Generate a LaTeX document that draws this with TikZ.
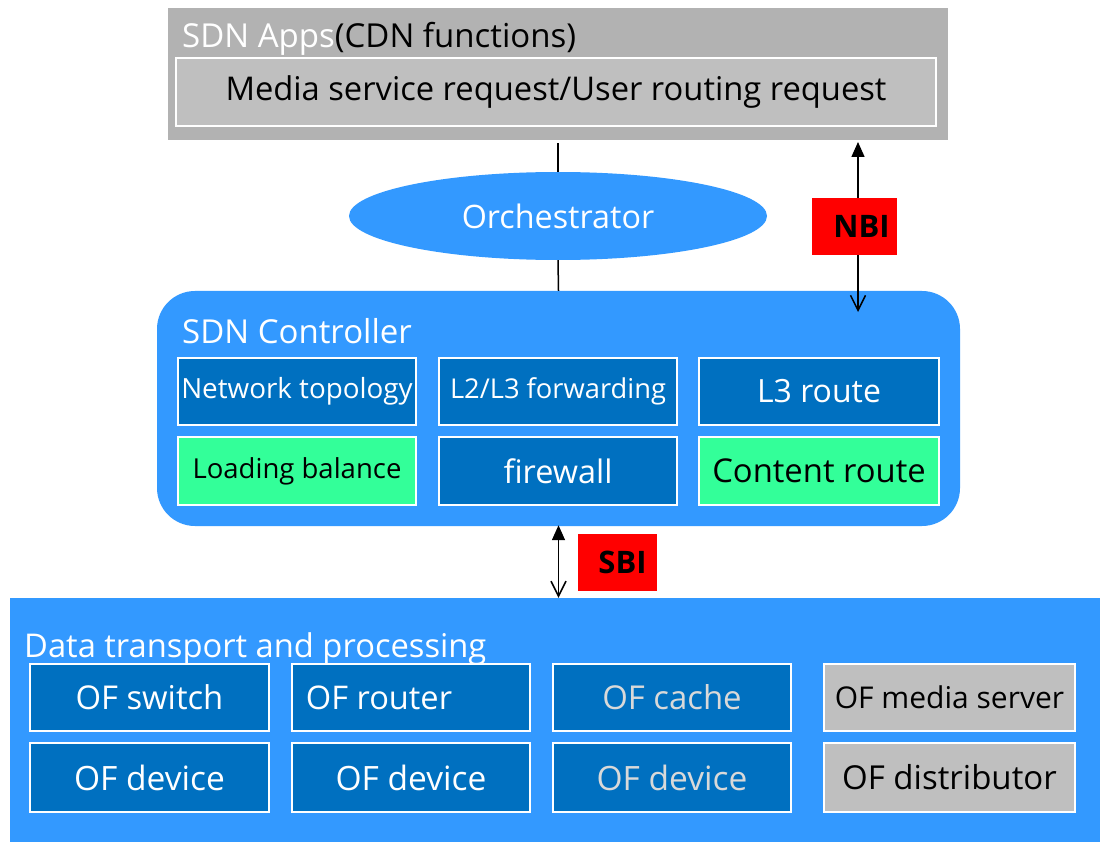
\documentclass[tikz,border=0pt]{standalone}
\usepackage{fontspec}
\setmainfont{Open Sans}
\usetikzlibrary{shapes.geometric,arrows.meta}
\definecolor{appsgray}{HTML}{B2B2B2}
\definecolor{reqgray}{HTML}{BFBFBF}
\definecolor{skyblue}{HTML}{3399FF}
\definecolor{deepblue}{HTML}{0070C0}
\definecolor{mint}{HTML}{33FF99}
\definecolor{dimtext}{HTML}{D9D9D9}
\tikzset{
  fs/.style={font=\fontsize{#1}{#1}\selectfont},
  cell/.style={draw=white, line width=2pt, inner sep=0pt, align=center},
  bluecell/.style={cell, fill=deepblue, text=white},
  greencell/.style={cell, fill=mint, text=black},
  graycell/.style={cell, fill=reqgray, text=black},
  tag/.style={fill=red, inner sep=0pt, font=\fontsize{31}{31}\selectfont\bfseries},
  title/.style={anchor=base west, text=white, inner sep=0pt},
  link/.style={draw=black, line width=1.5pt},
  twoway/.style={link, {Triangle[width=13pt,length=15pt]}-{Straight Barb[width=15pt,length=15pt]}},
}
\begin{document}
\begin{tikzpicture}[x=1pt,y=-1pt]
\useasboundingbox[fill=white] (0,0) rectangle (1100,842);

% application layer
\node[fill=appsgray, minimum width=780pt, minimum height=132pt, inner sep=0pt] (apps) at (558,74) {};
\node[title, fs=33] (appstitle) at (182,48) {SDN Apps\textcolor{black}{(CDN functions)}};
\node[graycell, minimum width=760pt, minimum height=68pt, fs=32.7] (req) at (556,92) {Media service request/User routing request};

% orchestrator
\node[ellipse, fill=skyblue, minimum width=418pt, minimum height=88pt, inner sep=0pt, text=white, fs=32.3] (orch) at (558,216) {Orchestrator};

% controller
\node[fill=skyblue, rounded corners=38pt, minimum width=803pt, minimum height=235pt, inner sep=0pt] (ctrl) at (558.5,408.5) {};
\node[title, fs=33] (ctrltitle) at (182,343) {SDN Controller};
\node[bluecell, minimum width=238pt, minimum height=67pt, fs=27.8] (topo) at (297,391.5) {Network topology};
\node[bluecell, minimum width=238pt, minimum height=67pt, fs=27.3] (fwd) at (558,391.5) {L2/L3 forwarding};
\node[bluecell, minimum width=240pt, minimum height=67pt, fs=32] (l3) at (819,391.5) {L3 route};
\node[greencell, minimum width=238pt, minimum height=68pt, fs=27.5] (lb) at (297,471) {Loading balance};
\node[bluecell, minimum width=238pt, minimum height=68pt, fs=32.4] (fw) at (558,471) {firewall};
\node[greencell, minimum width=240pt, minimum height=68pt, fs=32.8] (cr) at (819,471) {Content route};

% data plane
\node[fill=skyblue, minimum width=1090pt, minimum height=244pt, inner sep=0pt] (data) at (555,720) {};
\node[title, fs=32.7] (datatitle) at (24,657) {Data transport and processing};
\node[bluecell, minimum width=239pt, minimum height=67pt, fs=32.8] (sw) at (149.5,697.5) {OF switch};
\node[bluecell, minimum width=238pt, minimum height=67pt, fs=32.6] (rt) at (411,697.5) {\hspace*{-64pt}OF router};
\node[bluecell, minimum width=238pt, minimum height=67pt, fs=32.9, text=dimtext] (cache) at (672,697.5) {OF cache};
\node[graycell, minimum width=251pt, minimum height=67pt, fs=30] (media) at (949.5,697.5) {OF media server};
\node[bluecell, minimum width=239pt, minimum height=69pt, fs=33.5] (dev1) at (149.5,777.5) {OF device};
\node[bluecell, minimum width=238pt, minimum height=69pt, fs=33.5] (dev2) at (411,777.5) {OF device};
\node[bluecell, minimum width=238pt, minimum height=69pt, fs=33.5, text=dimtext] (dev3) at (672,777.5) {OF device};
\node[graycell, minimum width=251pt, minimum height=69pt, fs=33] (dist) at (949.5,777.5) {OF distributor};

% connectors
\draw[link] ([yshift=-3pt]apps.south) -- (orch.north);
\draw[link] (orch.south) -- (ctrl.north);
\coordinate (nbitop) at (858,142);
\coordinate (nbibot) at (858,312);
\draw[twoway] (nbitop) -- (nbibot);
\node[tag, minimum width=85pt, minimum height=57pt] (nbi) at (854.5,226.5) {\hspace*{14pt}NBI};
\draw[twoway] ([yshift=1pt]ctrl.south) -- (data.north -| ctrl.south);
\node[tag, minimum width=79pt, minimum height=57pt] (sbi) at (617.5,562.5) {\hspace*{10pt}SBI};
\end{tikzpicture}
\end{document}
